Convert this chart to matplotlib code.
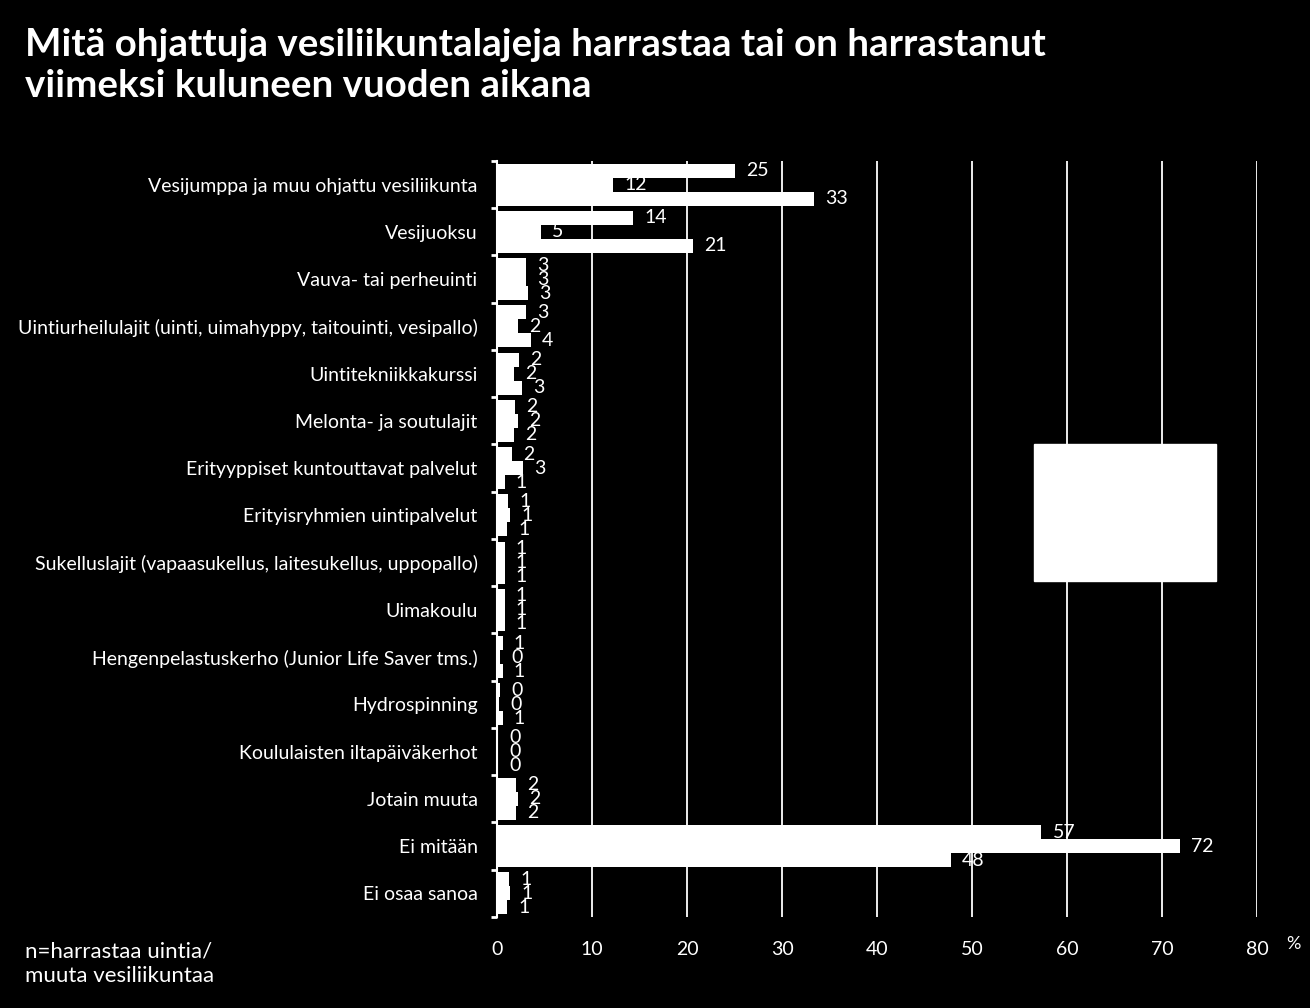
import numpy as np
import matplotlib.pyplot as plt
from matplotlib.patches import Patch

plt.rcParams['font.family'] = ['Lato', 'DejaVu Sans']

# categories from top to bottom
lajit = ["Vesijumppa ja muu ohjattu vesiliikunta",
         "Vesijuoksu",
         "Vauva- tai perheuinti",
         "Uintiurheilulajit (uinti, uimahyppy, taitouinti, vesipallo)",
         "Uintitekniikkakurssi",
         "Melonta- ja soutulajit",
         "Erityyppiset kuntouttavat palvelut",
         "Erityisryhmien uintipalvelut",
         "Sukelluslajit (vapaasukellus, laitesukellus, uppopallo)",
         "Uimakoulu",
         "Hengenpelastuskerho (Junior Life Saver tms.)",
         "Hydrospinning",
         "Koululaisten iltapäiväkerhot",
         "Jotain muuta",
         "Ei mitään",
         "Ei osaa sanoa"]

# three series (%)
sarja1 = [25.05, 14.3, 3.1, 3.05, 2.3, 1.9, 1.6, 1.2, 0.8, 0.8, 0.6, 0.3, 0.1, 2.0, 57.3, 1.26]
sarja2 = [12.2, 4.6, 3.1, 2.2, 1.8, 2.2, 2.7, 1.4, 0.8, 0.8, 0.3, 0.2, 0.1, 2.2, 71.9, 1.4]
sarja3 = [33.4, 20.6, 3.3, 3.55, 2.6, 1.8, 0.8, 1.1, 0.8, 0.8, 0.6, 0.6, 0.1, 2.0, 47.8, 1.1]
sarjat = ["Kaikki", "Uinti", "Muu"]

xticks = [0, 10, 20, 30, 40, 50, 60, 70, 80]


def lbl(v):
    return str(int(v + 0.5))


fig = plt.figure(figsize=(13.1, 10.08), dpi=100, facecolor='black')
ax = fig.add_axes([0.3794, 0.0903, 0.5802, 0.75])
ax.set_facecolor('black')

y = np.arange(len(lajit))
h = 0.296
bars = []
for k, vals in enumerate([sarja1, sarja2, sarja3]):
    b = ax.barh(y + (k - 1) * h, vals, height=h, color='white', zorder=2)
    bars.append(b)

for k, vals in enumerate([sarja1, sarja2, sarja3]):
    ax.bar_label(bars[k], labels=[lbl(v) for v in vals], padding=8, color='white',
                 fontsize=14, zorder=4)

ax.set_xlim(0, 80)
ax.set_ylim(len(lajit) - 0.5, -0.5)
ax.set_xticks(xticks)
ax.set_xticklabels([str(t) for t in xticks], color='white', fontsize=14)
ax.tick_params(axis='x', length=0, pad=17)
ax.set_yticks(y)
ax.set_yticklabels(lajit, color='white', fontsize=14)
ax.tick_params(axis='y', which='major', length=0, pad=14)
ax.set_yticks(np.arange(-0.5, len(lajit), 1), minor=True)
ax.tick_params(axis='y', which='minor', length=4, width=2, color='white', direction='out')

ax.grid(axis='x', color='white', linewidth=1.3)
ax.set_axisbelow(True)
for s in ['top', 'right', 'bottom']:
    ax.spines[s].set_visible(False)
ax.spines['left'].set_color('white')
ax.spines['left'].set_linewidth(1.5)

handles = [Patch(facecolor='white', edgecolor='white') for _ in sarjat]
leg = ax.legend(handles, sarjat, loc='center', bbox_to_anchor=(0.7066, 0.439, 0.2395, 0.192),
                mode='expand', borderaxespad=0, fontsize=14, labelspacing=1.2, borderpad=1.0,
                facecolor='white', edgecolor='white', framealpha=1, fancybox=False)
for t in leg.get_texts():
    t.set_color('white')

fig.text(0.019, 0.972, "Mitä ohjattuja vesiliikuntalajeja harrastaa tai on harrastanut\n"
         "viimeksi kuluneen vuoden aikana", color='white', fontsize=27.7,
         fontweight='bold', va='top', ha='left', linespacing=1.25)
fig.text(0.987, 0.063, "%", color='white', fontsize=13, ha='center', va='center')
fig.text(0.019, 0.044, "n=harrastaa uintia/\nmuuta vesiliikuntaa", color='white',
         fontsize=16, va='center', ha='left', linespacing=1.3)

fig.savefig('out.png', dpi=100, facecolor='black')
